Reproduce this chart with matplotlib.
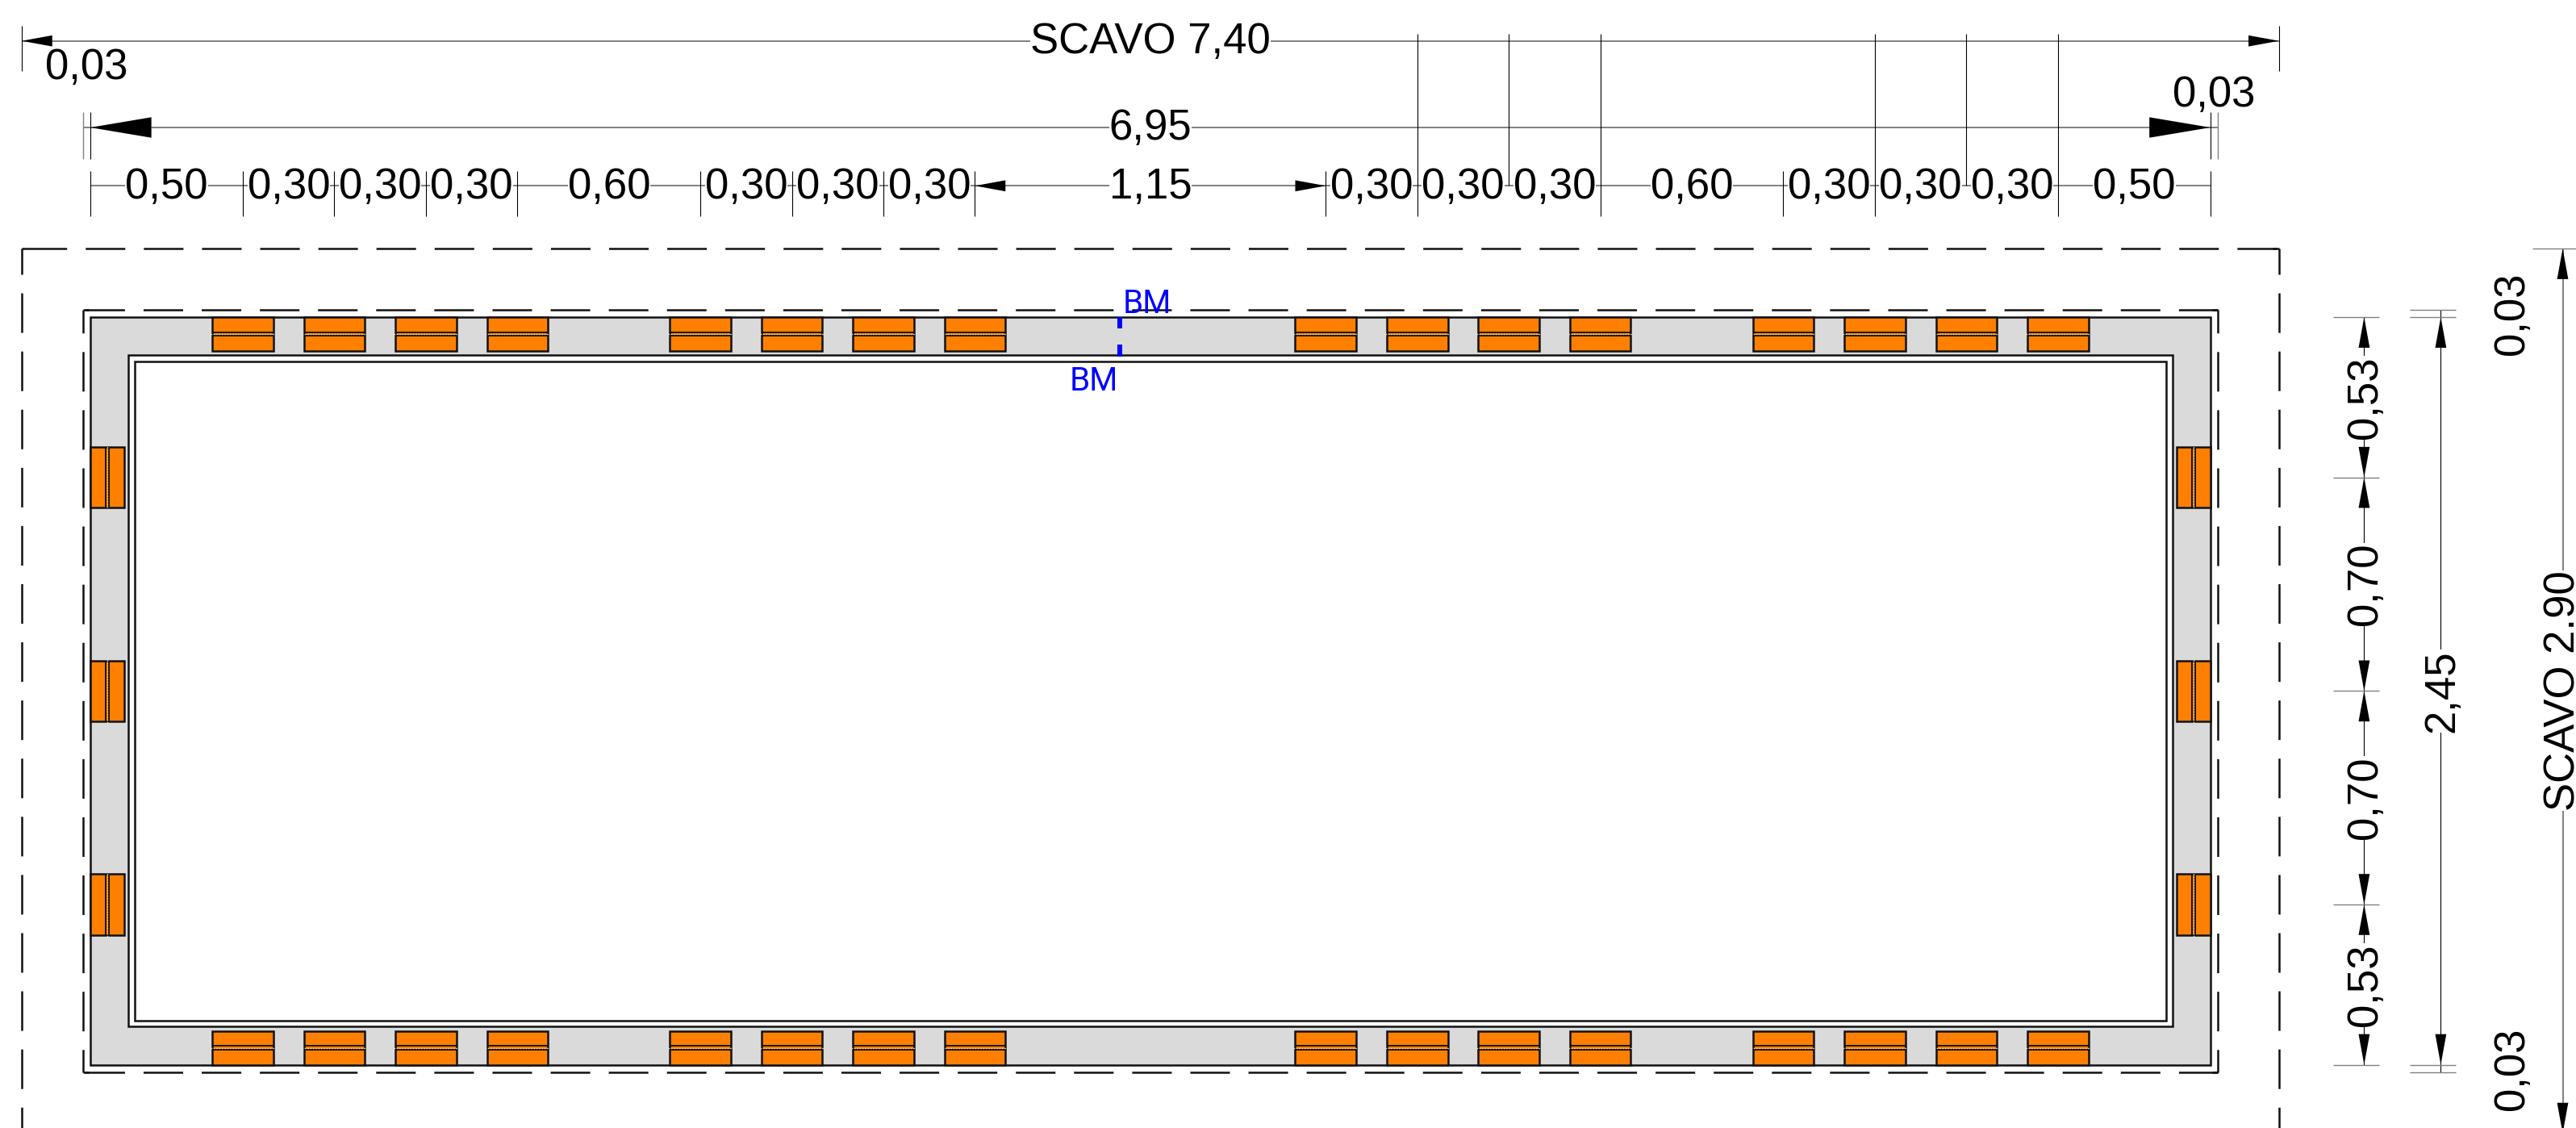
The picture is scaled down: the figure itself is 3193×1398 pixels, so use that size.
"""Plan view of the excavation with brick piers and dimension lines (values in metres)."""

import numpy as np
import matplotlib
matplotlib.use("Agg")
import matplotlib.pyplot as plt
from matplotlib.patches import Polygon, Rectangle

plt.rcParams['font.family'] = ['Liberation Sans', 'DejaVu Sans']
plt.rcParams['lines.scale_dashes'] = False

# horizontal chain of dimensions, from the left face of the wall
chain_x = [0.50, 0.30, 0.30, 0.30, 0.60, 0.30, 0.30, 0.30, 1.15,
           0.30, 0.30, 0.30, 0.60, 0.30, 0.30, 0.30, 0.50]
chain_x_labels = ['0,50', '0,30', '0,30', '0,30', '0,60', '0,30', '0,30', '0,30', '1,15',
                  '0,30', '0,30', '0,30', '0,60', '0,30', '0,30', '0,30', '0,50']
# vertical chain, from the bottom face of the wall
chain_y = [0.525, 0.70, 0.70, 0.525]
chain_y_labels = ['0,53', '0,70', '0,70', '0,53']

wall_w = 6.95
wall_h = 2.45
dig_w = 7.40
dig_h = 2.90
margin = 0.025          # dashed line just outside the wall
inner_a = 0.125         # first inner face
inner_b = 0.145         # second inner face

brick_x = [0.50, 0.80, 1.10, 1.40, 2.00, 2.30, 2.60, 2.90,
           4.05, 4.35, 4.65, 4.95, 5.55, 5.85, 6.15, 6.45]
brick_y = [0.525, 1.225, 1.925]
brick_len = 0.20
brick_dep = 0.11
joint = (0.05, 0.061)

ORANGE = '#ff8000'
GREY = '#dadada'
DIM = '#808080'
INK = '#111111'
BLUE = '#0000ff'

S = 378.1               # pixels per metre
W, H = 3193, 1398
X0, Y0 = 112, 1319.5    # pixel of the wall's bottom left corner

DASH = (35.3, 16.6)     # 49 px on, 23 px off
FS = 38
LW = 1.8


def mx(px):
    return (px - X0) / S


def my(py):
    return (Y0 - py) / S


fig = plt.figure(figsize=(W / 100, H / 100), dpi=100)
ax = fig.add_axes([0, 0, 1, 1])
ax.set_xlim(mx(0), mx(W))
ax.set_ylim(my(H), my(0))
ax.axis('off')


def seg(x, y, color='black', lw=0.8, zorder=3):
    ax.plot(x, y, color=color, lw=lw, solid_capstyle='butt', zorder=zorder)


def box(x0, y0, x1, y1, lw=LW, face='none', zorder=2):
    ax.add_patch(Rectangle((x0, y0), x1 - x0, y1 - y0, facecolor=face, edgecolor=INK,
                           lw=lw, zorder=zorder, joinstyle='miter'))


def dashed_h(x0, x1, y, phase):
    ax.plot([x0, x1], [y, y], color=INK, lw=LW, ls=(phase * 0.72, DASH),
            dash_capstyle='butt', zorder=2)
    # the dash always reaches the corner
    seg([x0, x0 + 0.02], [y, y], color=INK, lw=LW, zorder=2)
    seg([x1 - 0.02, x1], [y, y], color=INK, lw=LW, zorder=2)


def dashed_v(x, y0, y1, phase):
    ax.plot([x, x], [y0, y1], color=INK, lw=LW, ls=(phase * 0.72, DASH),
            dash_capstyle='butt', zorder=2)


def arrow(tip, axis, sign, length=0.10, half=0.0182, pos=0.0):
    # sign is the direction from the tip towards the tail
    if axis == 'x':
        pts = [(tip, pos), (tip + sign * length, pos + half), (tip + sign * length, pos - half)]
    else:
        pts = [(pos, tip), (pos + half, tip + sign * length), (pos - half, tip + sign * length)]
    ax.add_patch(Polygon(pts, closed=True, facecolor='black', edgecolor='none', zorder=4))


def label(x, y, text, rot=0, mask=True, color='black', size=FS, **kw):
    box_style = dict(facecolor='white', edgecolor='none', pad=0) if mask else None
    ax.text(x, y, text, fontsize=size, color=color, rotation=rot, rotation_mode='anchor',
            ha='center', va='baseline', bbox=box_style, zorder=5, **kw)


# wall band and inner faces
ax.add_patch(Rectangle((0, 0), wall_w, wall_h, facecolor=GREY, edgecolor=INK, lw=LW, zorder=1))
box(inner_a, inner_a, wall_w - inner_a, wall_h - inner_a, face='white', zorder=1.5)
box(inner_b, inner_b, wall_w - inner_b, wall_h - inner_b)

# dashed outlines
left, right = -margin, wall_w + margin
low, top = -margin, wall_h + margin
dashed_h(left, right, top, 69.7)
dashed_h(left, right, low, 69.7)
dashed_v(left, top, low, 20.3)
dashed_v(right, top, low, 20.3)

out_gap = (dig_w - wall_w) / 2
o_left, o_right = -out_gap, wall_w + out_gap
o_top = wall_h + (dig_h - wall_h) / 2
o_low = -(dig_h - wall_h) / 2
dashed_h(o_left, o_right, o_top, 65.4)
dashed_v(o_left, o_top, o_low, 17.0)
dashed_v(o_right, o_top, o_low, 17.0)


def brick_h(cx, outer, sign):
    y0 = outer + sign * brick_dep
    box(cx - brick_len / 2, min(outer, y0), cx + brick_len / 2, max(outer, y0), face=ORANGE)
    for j in joint:
        seg([cx - brick_len / 2, cx + brick_len / 2], [outer + sign * j] * 2, color=INK, lw=1.4)
    yj = outer + sign * sum(joint) / 2
    ax.plot([cx - brick_len / 2 - 0.006, cx + brick_len / 2 + 0.006], [yj, yj], color='#ffd9a0',
            lw=0.9, ls=(0, (1.2, 1.2)), zorder=3)


def brick_v(cy, outer, sign):
    x0 = outer + sign * brick_dep
    box(min(outer, x0), cy - brick_len / 2, max(outer, x0), cy + brick_len / 2, face=ORANGE)
    for j in joint:
        seg([outer + sign * j] * 2, [cy - brick_len / 2, cy + brick_len / 2], color=INK, lw=1.4)
    xj = outer + sign * sum(joint) / 2
    ax.plot([xj, xj], [cy - brick_len / 2 - 0.006, cy + brick_len / 2 + 0.006], color='#ffd9a0',
            lw=0.9, ls=(0, (1.2, 1.2)), zorder=3)


for cx in brick_x:
    brick_h(cx, wall_h, -1)
    brick_h(cx, 0, 1)
for cy in brick_y:
    brick_v(cy, 0, 1)
    brick_v(cy, wall_w, -1)

# section mark
bm_x = mx(1388)
seg([bm_x, bm_x], [my(392.7), my(407.3)], color=BLUE, lw=4.3, zorder=4)
seg([bm_x, bm_x], [my(426.7), my(441.7)], color=BLUE, lw=4.3, zorder=4)
label(mx(1422), my(388), 'BM', mask=False, color=BLUE, size=29, family='Roboto')
label(mx(1356), my(484), 'BM', mask=False, color=BLUE, size=29, family='Roboto')

base = 15.5 / S         # text baseline below or beside its dimension line

# SCAVO 7,40
y1 = my(50.7)
seg([o_left, o_right], [y1, y1], color=DIM, lw=1.4)
seg([o_left, o_left], [my(32), my(88)])
seg([o_right, o_right], [my(32), my(88)])
arrow(o_left, 'x', 1, pos=y1)
arrow(o_right, 'x', -1, pos=y1)
label(wall_w / 2, y1 - base, 'SCAVO 7,40')
label(mx(107.4), my(97.7), '0,03', mask=False)
label(mx(2744), my(131.7), '0,03', mask=False)

# 6,95
y2 = my(158)
seg([left, right], [y2, y2], color=DIM, lw=1.4)
seg([left, left], [my(139), my(197)], color=DIM, lw=1.0)
seg([0, 0], [my(139), my(197)])
seg([wall_w, wall_w], [my(139), my(197)])
seg([right, right], [my(139), my(197)], color=DIM, lw=1.0)
arrow(0, 'x', 1, length=0.20, half=0.0336, pos=y2)
arrow(wall_w, 'x', -1, length=0.20, half=0.0336, pos=y2)
label(wall_w / 2, y2 - base, '6,95')

# chain of 0,50 / 0,30 ...
y3 = my(230.3)
ticks_x = np.concatenate([[0], np.cumsum(chain_x)])
seg([ticks_x[0], ticks_x[-1]], [y3, y3], color=DIM, lw=1.4)
for i, tx in enumerate(ticks_x):
    top_end = my(212)
    low_end = my(268)
    # the last bays on the right carry long extension lines up to the top line
    if 10 <= i <= 12 or 14 <= i <= 16:
        top_end = my(41.7)
    if i == 11 or i == 15:
        low_end = y3
    seg([tx, tx], [top_end, low_end])
for i, lab in enumerate(chain_x_labels):
    label((ticks_x[i] + ticks_x[i + 1]) / 2, y3 - base, lab)
arrow(ticks_x[8], 'x', 1, pos=y3)
arrow(ticks_x[9], 'x', -1, pos=y3)

# vertical chain
xa = mx(2930.4)
ticks_y = np.concatenate([[0], np.cumsum(chain_y)])
seg([xa, xa], [0, wall_h])
for ty in ticks_y:
    seg([mx(2892), mx(2949.4)], [ty, ty], color=DIM, lw=1.0)
for i, lab in enumerate(chain_y_labels):
    arrow(ticks_y[i], 'y', 1, pos=xa)
    arrow(ticks_y[i + 1], 'y', -1, pos=xa)
    label(xa + base, (ticks_y[i] + ticks_y[i + 1]) / 2, lab, rot=90)

# 2,45
xb = mx(3025.4)
seg([xb, xb], [low, top])
for ty in [low, 0, wall_h, top]:
    seg([mx(2987.4), mx(3044.4)], [ty, ty], color=DIM, lw=1.0)
arrow(0, 'y', 1, pos=xb)
arrow(wall_h, 'y', -1, pos=xb)
label(xb + base, wall_h / 2, '2,45', rot=90)

# SCAVO 2.90 (a point in this one, and it runs up to the picture's edge)
xc = mx(3176.5)
seg([xc, xc], [o_low, o_top], color=DIM, lw=1.4)
seg([mx(3139.4), mx(W)], [o_top, o_top], color=DIM, lw=1.0)
arrow(o_top, 'y', -1, pos=xc)
arrow(o_low, 'y', 1, pos=xc)
label(xc + base - 1 / S, wall_h / 2, 'SCAVO 2.90', rot=90)
label(mx(3128), my(388.5), '0,03', rot=90, mask=False)
label(mx(3128), my(1325), '0,03', rot=90, mask=False)

fig.savefig('out.png', dpi=100, facecolor='white')
